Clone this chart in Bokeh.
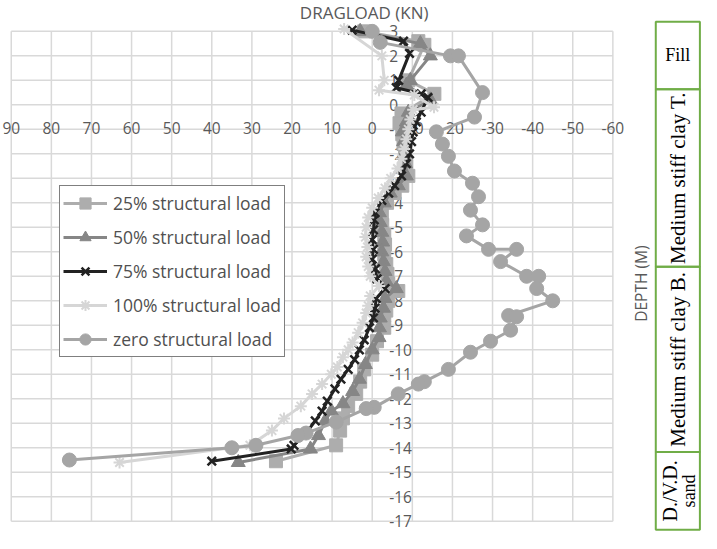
from math import pi
from bokeh.plotting import figure
from bokeh.models import Range1d, Legend, LegendItem
from bokeh.embed import file_html
from bokeh.resources import INLINE
from bokeh.core.properties import value

# ---------------- data ----------------
x_ticks = list(range(90, -61, -10))
y_ticks = list(range(3, -18, -1))

depth_25 = [3.0, 2.6, 2.45, 1.0, 0.45, -0.35, -0.75, -1.2, -1.6, -2.0, -2.5, -2.9, -3.3, -3.6, -4.0, -4.5,
            -4.9, -5.3, -5.7, -6.1, -6.5, -6.9, -7.3, -7.6, -8.0, -8.4, -8.6, -9.1, -9.65, -10.2, -10.8,
            -11.3, -11.8, -12.3, -12.8, -13.3, -13.9, -14.55]
load_25 = [2, -11.5, -13, -9, -15.5, -7.3, -6.8, -7.5, -7.8, -8.2, -8.5, -9, -7.5, -5.6, -3.7, -2.4,
           -2.5, -3, -3.2, -3, -3.5, -3.8, -4, -6.5, -4, -3.5, -3, -3, -1.2, 0, 2,
           3, 4, 6, 7.3, 8, 9, 24]

depth_50 = [3.0, 2.5, 2.0, 1.0, 0.8, 0.2, -0.3, -0.7, -1.1, -1.5, -2.0, -2.4, -2.9, -3.3, -3.6, -4.0,
            -4.4, -4.8, -5.2, -5.6, -6.0, -6.4, -6.8, -7.2, -7.5, -7.9, -8.3, -8.7, -9.1, -9.5, -10.0,
            -10.6, -11.2, -11.7, -12.2, -12.5, -12.9, -13.5, -14.05, -14.6]
load_50 = [3, -12, -14.5, -9.5, -8.5, -14.5, -9, -8.5, -7.5, -7.8, -8, -8.3, -8.5, -6.5, -4.5, -3,
           -1.8, -2, -2.4, -2.6, -2.4, -2.8, -3.2, -3.5, -6, -3.2, -2.8, -2, -1.8, -1.7, 0,
           1.7, 3.2, 4.9, 7.3, 10.2, 11.7, 13.4, 15.4, 33.4]

depth_75 = [3.05, 2.6, 2.1, 1.0, 0.7, 0.45, 0.3, -0.3, -0.7, -1.1, -1.5, -2.0, -2.4, -2.9, -3.3, -3.6,
            -3.9, -4.4, -4.7, -5.1, -5.5, -5.9, -6.3, -6.7, -7.1, -7.5, -7.9, -8.3, -8.7, -9.1, -9.6,
            -10.0, -10.4, -10.8, -11.2, -11.6, -12.1, -12.5, -12.9, -13.4, -13.9, -14.05, -14.55]
load_75 = [5, -7.8, -9.3, -6.6, -6, -12.2, -13.9, -12.2, -11, -10.2, -9.8, -9.3, -8.5, -7.3, -5.6, -4.1,
           -2.4, -0.7, -0.5, -0.3, 0, -0.3, 0, -0.8, -1.2, -3.2, -1, -0.7, -0.3, 0.7, 2,
           3.2, 4.4, 6, 7.8, 9.3, 11.2, 12.5, 14.2, 16.5, 19.5, 20.2, 40]

depth_100 = [3.1, 2.0, 1.0, 0.6, 0.4, -0.1, -0.2, -0.6, -1.0, -1.4, -1.8, -2.2, -2.6, -3.0, -3.4, -3.8,
             -4.2, -4.6, -5.0, -5.4, -5.8, -6.2, -6.6, -7.0, -7.4, -7.8, -8.2, -8.5, -8.9, -9.3, -9.7,
             -10.0, -10.3, -10.7, -11.0, -11.4, -11.8, -12.3, -12.8, -13.3, -13.9, -14.6]
load_100 = [7, -2.4, -3, -1.7, -10.5, -15.4, -10.2, -9.5, -9, -8.5, -8, -7.3, -6.3, -4.6, -3.2, -1.5,
            0, 1, 1.5, 1.7, 1.2, 1.5, 1, 0.5, -1.7, 0.5, 1, 1.5, 2.4, 3.5, 4.9,
            6, 7.3, 8.7, 10.2, 12.5, 15, 17.8, 22, 25, 30.5, 63]

depth_0 = [3.0, 2.55, 2.0, 2.0, 0.5, -0.5, -1.1, -1.6, -2.1, -2.7, -3.2, -3.75, -4.3, -4.9, -5.35, -5.9,
           -5.9, -6.4, -7.0, -7.0, -7.5, -8.0, -8.6, -8.65, -9.2, -9.65, -10.1, -10.8, -11.3, -11.4, -11.8,
           -12.35, -12.4, -12.95, -13.4, -13.5, -13.9, -14.0, -14.5]
load_0 = [0, -2, -19.5, -21.5, -27.5, -25.5, -16, -17.5, -19, -20.5, -25, -26.5, -24.5, -27.5, -23.5, -29,
          -36, -32, -38.5, -41.5, -41, -45, -34, -36, -34.5, -29.5, -24.5, -19, -13, -11.5, -6.5,
          -0.5, 1.5, 9, 16.5, 18.5, 29, 35, 75.5]

series_labels = ["25% structural load", "50% structural load", "75% structural load",
                 "100% structural load", "zero structural load"]

layer_names = ["Fill", "Medium stiff clay T.", "Medium stiff clay B.", "D./V.D.", "sand"]
layer_tops = [3.39, 0.64, -6.61, -14.17]
layer_bottoms = [0.64, -6.61, -14.17, -17.35]

# ---------------- figure ----------------
p = figure(width=701, height=533, output_backend="svg", toolbar_location=None,
           x_range=Range1d(92.68, -82.1), y_range=Range1d(-17.5, 4.26),
           x_axis_location=None, y_axis_location=None, min_border=0)
p.outline_line_color = None
p.grid.visible = False
p.background_fill_color = "white"

GRID = "#D9D9D9"
TXT = "#595959"
FONT = value("Open Sans")

# grid lines built from the tick lists
p.segment(x0=x_ticks, x1=x_ticks, y0=[y_ticks[-1]] * len(x_ticks), y1=[y_ticks[0]] * len(x_ticks),
          line_color=GRID, line_width=1.5)
p.segment(x0=[x_ticks[0]] * len(y_ticks), x1=[x_ticks[-1]] * len(y_ticks), y0=y_ticks, y1=y_ticks,
          line_color=GRID, line_width=1.5)

# tick labels (axes cross at 0)
p.text(x=x_ticks, y=[0] * len(x_ticks), text=[str(t) for t in x_ticks], text_align="center",
       text_baseline="middle", y_offset=23, text_font=FONT, text_font_size="15.5px", text_color=TXT)
p.text(x=[0] * len(y_ticks), y=y_ticks, text=[str(t) for t in y_ticks], text_align="left",
       text_baseline="middle", x_offset=17, text_font=FONT, text_font_size="15.5px", text_color=TXT)

# series
styles = [
    dict(color="#ADADAD", marker="square", size=13, lw=1),
    dict(color="#868686", marker="triangle", size=14, lw=1),
    dict(color="#222222", marker="x", size=12, lw=2.5),
    dict(color="#D6D6D6", marker="asterisk", size=12, lw=2),
    dict(color="#A5A5A5", marker="circle", size=14, lw=1),
]
data = [(load_25, depth_25), (load_50, depth_50), (load_75, depth_75), (load_100, depth_100), (load_0, depth_0)]
items = []
for (xs, ys), st, lab in zip(data, styles, series_labels):
    r1 = p.line(xs, ys, line_color=st["color"], line_width=3)
    r2 = p.scatter(xs, ys, marker=st["marker"], size=st["size"], fill_color=st["color"],
                   line_color=st["color"], line_width=st["lw"])
    items.append(LegendItem(label=lab, renderers=[r1, r2]))

legend = Legend(items=items, location=(59, 176), margin=0, padding=3, spacing=6,
                glyph_width=44, glyph_height=28, label_height=28, label_standoff=6,
                border_line_color="black", border_line_width=1.5,
                background_fill_color="white", background_fill_alpha=1,
                label_text_font="Open Sans", label_text_font_size="17.5px", label_text_color="#505050")
p.add_layout(legend)

# title and depth label
p.text(x=[2.0], y=[3.75], text=["DRAGLOAD (KN)"], text_align="center", text_baseline="middle",
       text_font=FONT, text_font_size="17px", text_color=TXT)
p.text(x=[-67.1], y=[-7.3], text=["DEPTH (M)"], text_align="center", text_baseline="middle",
       angle=pi / 2, text_font=FONT, text_font_size="15.5px", text_color=TXT)

# soil layer table
p.quad(left=[-70.7] * 4, right=[-81.7] * 4, top=layer_tops, bottom=layer_bottoms,
       fill_color=None, line_color="#70AD47", line_width=2)
SERIF = value("Liberation Serif")
p.text(x=[-76.2], y=[(layer_tops[0] + layer_bottoms[0]) / 2], text=[layer_names[0]], text_align="center",
       text_baseline="middle", text_font=SERIF, text_font_size="18px", text_color="black")
p.text(x=[-76.2, -76.2], y=[(layer_tops[i] + layer_bottoms[i]) / 2 for i in (1, 2)],
       text=layer_names[1:3], angle=pi / 2, text_align="center", text_baseline="middle",
       text_font=SERIF, text_font_size="21px", text_color="black")
p.text(x=[-74.2], y=[(layer_tops[3] + layer_bottoms[3]) / 2], text=[layer_names[3]], angle=pi / 2,
       text_align="center", text_baseline="middle", text_font=SERIF, text_font_size="20px", text_color="black")
p.text(x=[-78.9], y=[(layer_tops[3] + layer_bottoms[3]) / 2], text=[layer_names[4]], angle=pi / 2,
       text_align="center", text_baseline="middle", text_font=SERIF, text_font_size="18px", text_color="black")

open("out.html", "w").write(file_html(p, INLINE))
